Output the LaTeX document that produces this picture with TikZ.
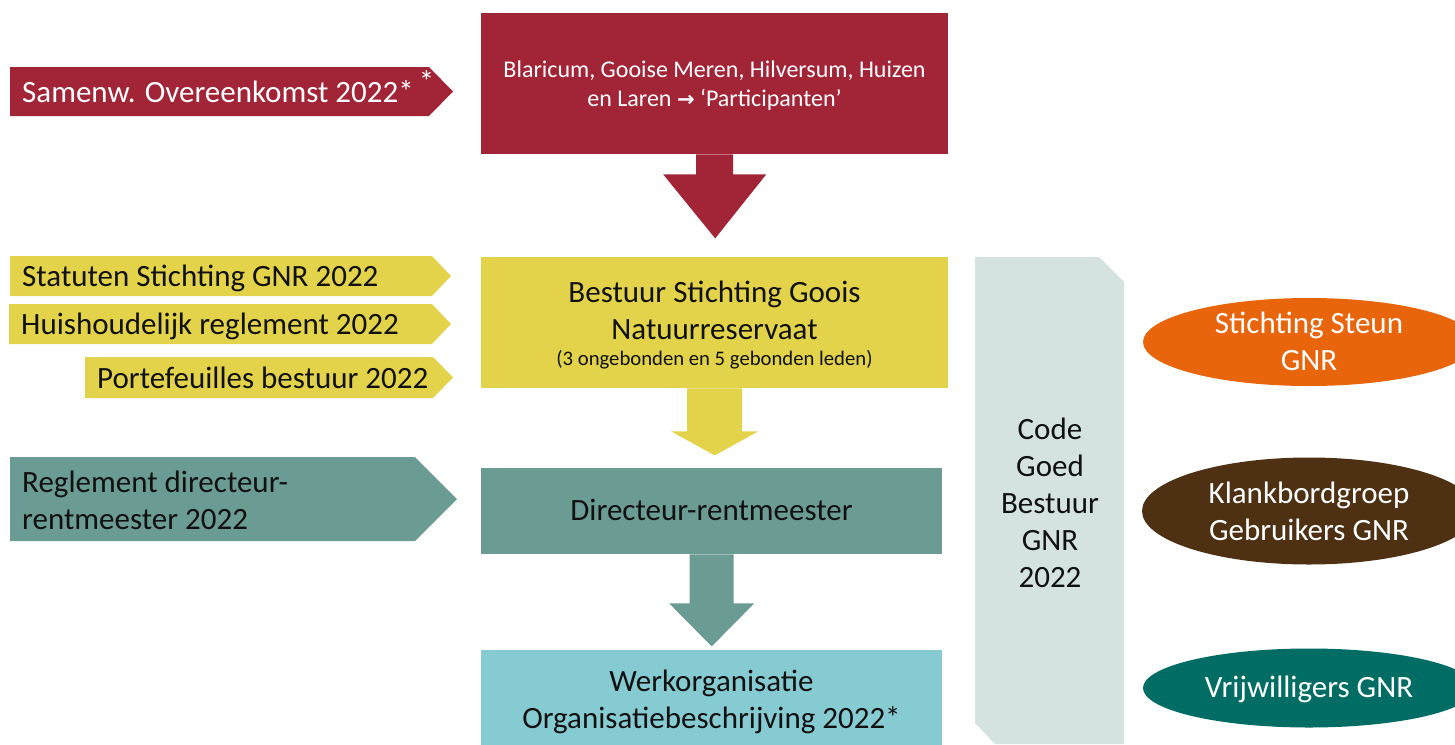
\documentclass[tikz,border=0pt]{standalone}
\usepackage{fontspec}
\setmainfont{Carlito}
\newfontfamily\symfont{DejaVu Sans Bold}
\usetikzlibrary{shapes.geometric,calc}
\definecolor{gnrred}{HTML}{A12537}
\definecolor{gnryellow}{HTML}{E3D34B}
\definecolor{gnrteal}{HTML}{6B9C93}
\definecolor{gnrlight}{HTML}{87CBD2}
\definecolor{gnrgrey}{HTML}{D4E3E0}
\definecolor{gnrorange}{HTML}{E8650C}
\definecolor{gnrbrown}{HTML}{4E3013}
\definecolor{gnrgreen}{HTML}{006D64}
\definecolor{gnrtext}{HTML}{111111}
\tikzset{
  big/.style={font=\fontsize{31}{37}\selectfont},
  boxnode/.style={anchor=north west, inner sep=0pt},
  txt/.style={anchor=base, inner sep=0pt, align=center, text=gnrtext, big},
  tagtext/.style={anchor=base west, inner sep=0pt, align=left, text=gnrtext, big},
  blob/.style={ellipse, inner sep=0pt},
}
\begin{document}
\begin{tikzpicture}[x=1pt,y=-1pt]
\path[use as bounding box] (0,0) rectangle (1455,744);
\clip (0,0) rectangle (1455,744);

% left tags (base anchor of multi-line text = last baseline)
\fill[gnrred] (10,67) -- (429,67) -- (453,91.5) -- (429,116) -- (10,116) -- cycle;
\node[tagtext, text=white] (samenw) at (22,102) {Samenw. Overeenkomst 2022*\,\raisebox{0.3em}{*}};

\fill[gnryellow] (10,256) -- (432,256) -- (451,276) -- (432,296) -- (10,296) -- cycle;
\node[tagtext] (statuten) at (22,286) {Statuten Stichting GNR 2022};
\fill[gnryellow] (9,304) -- (432,304) -- (451,324) -- (432,344) -- (9,344) -- cycle;
\node[tagtext] (huish) at (21,334) {Huishoudelijk reglement 2022};
\fill[gnryellow] (85,357) -- (433,357) -- (453,377.5) -- (433,398) -- (85,398) -- cycle;
\node[tagtext] (portef) at (97,388) {Portefeuilles bestuur 2022};

\fill[gnrteal] (10,457) -- (415,457) -- (457,499) -- (415,541) -- (10,541) -- cycle;
\node[tagtext] (regl) at (22,529) {Reglement directeur-\\rentmeester 2022};

% central boxes
\node[boxnode, fill=gnrred, minimum width=467pt, minimum height=141pt] (partic) at (481,13) {};
\node[txt, text=white, font=\fontsize{24}{29}\selectfont] (partictxt) at (714.5,106)
  {Blaricum, Gooise Meren, Hilversum, Huizen\\en Laren {\symfont\fontsize{21}{21}\selectfont →} ‘Participanten’};

\node[boxnode, fill=gnryellow, minimum width=467pt, minimum height=131pt] (bestuur) at (481,257) {};
\node[txt] (bestuurtxt) at (714.5,339) {Bestuur Stichting Goois\\Natuurreservaat};
\node[txt, font=\fontsize{20.7}{24}\selectfont] (leden) at (714.5,365) {(3 ongebonden en 5 gebonden leden)};

\node[boxnode, fill=gnrteal, minimum width=461pt, minimum height=86pt] (direct) at (481,468) {};
\node[txt] (directtxt) at (711.5,520) {Directeur-rentmeester};

\node[boxnode, fill=gnrlight, minimum width=461pt, minimum height=110pt] (werk) at (481,650) {};
\node[txt] (werktxt) at (711.5,728) {Werkorganisatie\\Organisatiebeschrijving 2022*};

% block arrows
\begin{scope}[shift={(partic.south)}]
\fill[gnrred] (-18.5,0) -- (-18.5,20) -- (-51.5,20) -- (0.5,84) -- (51.5,20) -- (18.5,20) -- (18.5,0) -- cycle;
\end{scope}
\begin{scope}[shift={(bestuur.south)}]
\fill[gnryellow] (-27.5,0) -- (-27.5,43) -- (-43.5,43) -- (0,67) -- (43.5,43) -- (27.5,43) -- (27.5,0) -- cycle;
\end{scope}
\begin{scope}[shift={(direct.south)}]
\fill[gnrteal] (-22,0) -- (-22,49) -- (-42.5,49) -- (0,92) -- (42.5,49) -- (22,49) -- (22,0) -- cycle;
\end{scope}

% code goed bestuur
\fill[gnrgrey] (975,257) -- (1099,257) -- (1124,282) -- (1124,744) -- (995,744) -- (975,723) -- cycle;
\node[txt] (code) at (1050,587) {Code\\Goed\\Bestuur\\GNR\\2022};

% ellipses
\node[blob, fill=gnrorange, minimum width=332pt, minimum height=88pt] (steun) at (1309,342) {};
\node[txt, text=white] (steuntxt) at (1309,370) {Stichting Steun\\GNR};
\node[blob, fill=gnrbrown, minimum width=334pt, minimum height=107pt] (klank) at (1309,511) {};
\node[txt, text=white] (klanktxt) at (1309,540) {Klankbordgroep\\Gebruikers GNR};
\node[blob, fill=gnrgreen, minimum width=332pt, minimum height=79pt] (vrijw) at (1309,688) {};
\node[txt, text=white] (vrijwtxt) at (1309,697) {Vrijwilligers GNR};
\end{tikzpicture}
\end{document}
